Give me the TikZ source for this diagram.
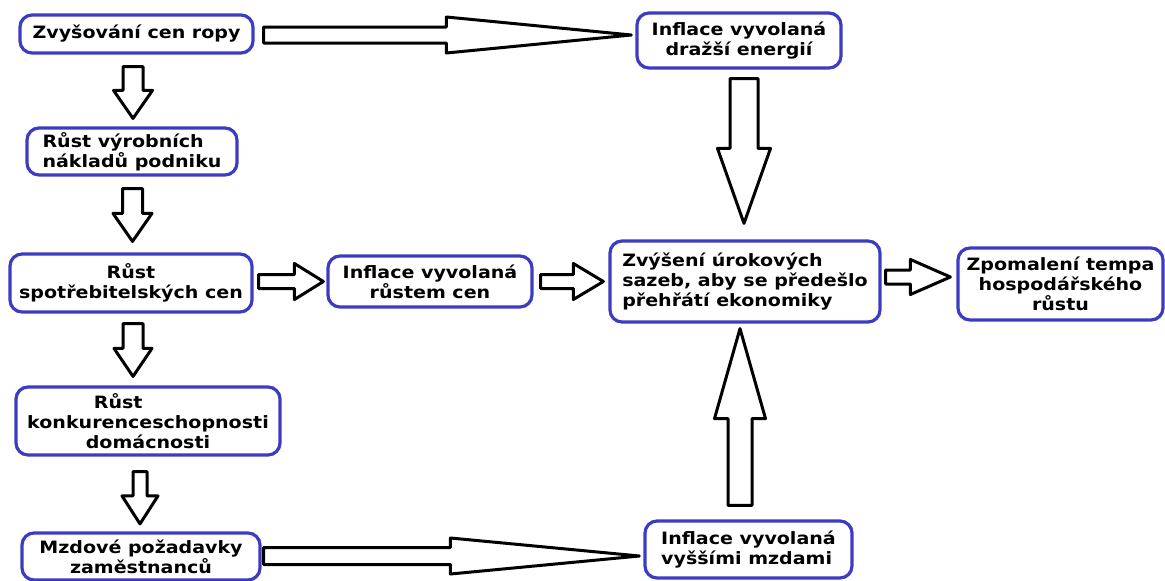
\documentclass[tikz,border=0pt]{standalone}
\usepackage{fontspec}
\setmainfont{DejaVu Sans}[FakeStretch=1.12]
\usetikzlibrary{calc}

\definecolor{boxblue}{RGB}{60,60,195}

\tikzset{
  box/.style={draw=boxblue, line width=3.2pt, rounded corners=12pt, fill=white,
    inner sep=2pt, font=\fontsize{17}{20}\selectfont\bfseries},
  fatarrow/.style={draw=black, line width=3pt, fill=white, line join=round}
}

% siroke sipky: start, hrot, pul driku, pul hlavy, delka hlavy
\newcommand{\fatright}[5]{%
  \draw[fatarrow] let \p1=(#1), \p2=(#2) in
    (\x1,\y2+#3pt) -- (\x2-#5pt,\y2+#3pt) -- (\x2-#5pt,\y2+#4pt) -- (\x2,\y2)
    -- (\x2-#5pt,\y2-#4pt) -- (\x2-#5pt,\y2-#3pt) -- (\x1,\y2-#3pt) -- cycle;}
\newcommand{\fatdown}[5]{%
  \draw[fatarrow] let \p1=(#1), \p2=(#2) in
    (\x2-#3pt,\y1) -- (\x2-#3pt,\y2+#5pt) -- (\x2-#4pt,\y2+#5pt) -- (\x2,\y2)
    -- (\x2+#4pt,\y2+#5pt) -- (\x2+#3pt,\y2+#5pt) -- (\x2+#3pt,\y1) -- cycle;}
\newcommand{\fatup}[5]{%
  \draw[fatarrow] let \p1=(#1), \p2=(#2) in
    (\x2-#3pt,\y1) -- (\x2-#3pt,\y2-#5pt) -- (\x2-#4pt,\y2-#5pt) -- (\x2,\y2)
    -- (\x2+#4pt,\y2-#5pt) -- (\x2+#3pt,\y2-#5pt) -- (\x2+#3pt,\y1) -- cycle;}

\begin{document}
\begin{tikzpicture}[x=1pt,y=-1pt]
\useasboundingbox[fill=white] (0,0) rectangle (1165,581);

% levy sloupec
\node[box, minimum width=233pt, minimum height=38pt] (oil) at (136.5,34) {Zvyšování cen ropy};
\node[box, minimum width=210pt, minimum height=47pt, align=left] (costs) at (132,151.5) {Růst výrobních\\nákladů podniku};
\node[box, minimum width=242pt, minimum height=58pt, align=center] (consumer) at (131,283) {Růst\\spotřebitelských cen};
\node[box, minimum width=264pt, minimum height=68pt, align=center] (competitive) at (148,421) {Růst\hspace*{3.5em}\\konkurenceschopnosti\\domácnosti};
\node[box, minimum width=238pt, minimum height=47pt, align=center] (wages) at (141,556.5) {Mzdové požadavky\\zaměstnanců};

% inflace
\node[box, minimum width=204pt, minimum height=55pt, align=center] (energyinfl) at (739,40.5) {Inflace vyvolaná\\dražší energií};
\node[box, minimum width=204pt, minimum height=51pt, align=center] (priceinfl) at (430,281.5) {Inflace vyvolaná\\růstem cen};
\node[box, minimum width=207pt, minimum height=57pt, align=left] (wageinfl) at (748.5,549.5) {Inflace vyvolaná\\vyššími mzdami};

% stred a vpravo
\node[box, minimum width=270pt, minimum height=81pt, align=left] (rates) at (745,281.5) {Zvýšení úrokových\\sazeb, aby se předešlo\\přehřátí ekonomiky};
\node[box, minimum width=205pt, minimum height=72pt, align=center] (slowdown) at (1060.5,284) {Zpomalení tempa\\hospodářského\\růstu};

% sipky dolu
\fatdown{$(oil.south)+(0,12)$}{$(costs.north)+(1,-8)$}{10}{19.5}{28}
\fatdown{$(costs.south)+(0,12)$}{$(consumer.north)+(1.5,-11)$}{10}{19.5}{28}
\fatdown{$(consumer.south)+(0,10)$}{$(competitive.north)+(-15,-9)$}{10}{19}{28}
\fatdown{$(competitive.south)+(0,15)$}{$(wages.north)+(-1,-7.5)$}{7}{18}{28}

% dlouhe sipky
\fatright{$(oil.east)+(9,0)$}{$(energyinfl.west)+(-4,-5.5)$}{8}{18}{185}
\fatright{$(wages.east)+(2,0)$}{$(wageinfl.west)+(-4,6.5)$}{8.5}{18}{189}
\fatdown{$(energyinfl.south)+(0,9)$}{$(rates.north)+(-1,-16)$}{14}{26.5}{75}
\fatup{$(wageinfl.north)+(0,-14)$}{$(rates.south)+(-5,5)$}{12}{25.5}{90}

% kratke sipky
\fatright{$(consumer.east)+(5,0)$}{$(priceinfl.west)+(-3,0)$}{7}{18}{29}
\fatright{$(priceinfl.east)+(7,0)$}{$(rates.west)+(-5,0)$}{7}{18}{30}
\fatright{$(rates.east)+(4,0)$}{$(slowdown.west)+(-6,-7)$}{7}{17.5}{40}
\end{tikzpicture}
\end{document}
